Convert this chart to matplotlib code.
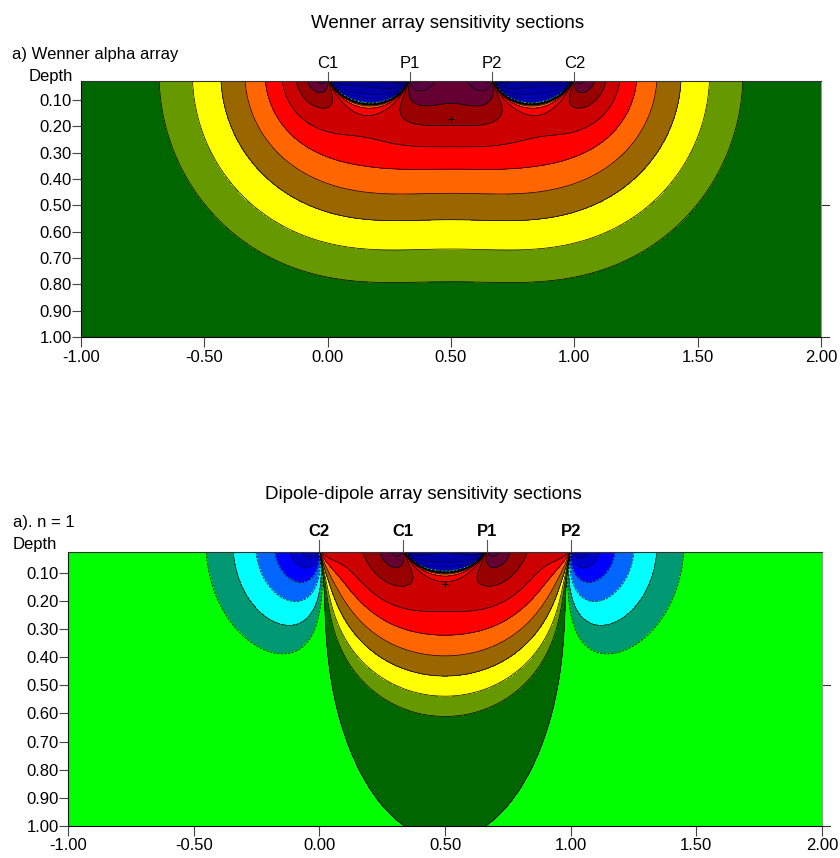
import numpy as np
import matplotlib
matplotlib.use("Agg")
from matplotlib import pyplot as plt

plt.rcParams['font.family'] = ['Liberation Sans', 'DejaVu Sans']

# electrode positions (unit spread) and labels
wenner_names = ["C1", "P1", "P2", "C2"]
wenner_pos = [0.0, 1/3, 2/3, 1.0]
dd_names = ["C2", "C1", "P1", "P2"]
dd_pos = [0.0, 1/3, 2/3, 1.0]
wenner_point = (0.5, 0.173)
dd_point = (0.5, 0.139)

# contour levels and fill colours
levels = [-40.96, -20.48, -10.24, -5.12, -2.56, -1.28, -0.64, -0.32, -0.16, -0.08, -0.04, -0.02, 0.0,
          0.02, 0.04, 0.08, 0.16, 0.32, 0.64, 1.28, 2.56, 5.12, 10.24, 20.48, 40.96]
fill_colors = ["#000060", "#000070", "#000080", "#000099", "#0000AA", "#0000BB", "#0000CC", "#0000FF",
               "#0066FF", "#00FFFF", "#009973", "#00FF00",
               "#006600", "#669900", "#FFFF00", "#996600", "#FF6600", "#FF0000", "#CC0000",
               "#990000", "#660033", "#5A0040", "#500045", "#480048"]

xticks = [-1.0, -0.5, 0.0, 0.5, 1.0, 1.5, 2.0]
yticks = [0.1, 0.2, 0.3, 0.4, 0.5, 0.6, 0.7, 0.8, 0.9, 1.0]


def polepole(xa, xm, X, Z):
    # 2D sensitivity of a pole-pole pair over a homogeneous half space
    u = np.linspace(0, 14, 1000)
    ys = 0.005 * np.sinh(u)
    dys = 0.005 * np.cosh(u)
    out = np.zeros_like(X)
    prev = None
    for k in range(len(u)):
        y2 = ys[k]**2
        ra = (X - xa)**2 + y2 + Z**2
        rm = (X - xm)**2 + y2 + Z**2
        f = ((X - xa)*(X - xm) + y2 + Z**2) / (ra * rm)**1.5 * dys[k]
        if prev is not None:
            out += 0.5*(f + prev)*(u[k] - u[k-1])
        prev = f
    return 2*out/(4*np.pi**2)


def four(c1, c2, p1, p2, X, Z):
    return (polepole(c1, p1, X, Z) - polepole(c1, p2, X, Z)
            - polepole(c2, p1, X, Z) + polepole(c2, p2, X, Z))


def panel(ax, F, X, Z, names, pos, point, ztop, bold, lablift, ticklen):
    ax.contourf(X, Z, F, levels=levels, colors=fill_colors)
    ax.contour(X, Z, F, levels=levels, colors="k", linewidths=0.5)
    ax.plot(*point, "+", color="k", ms=4, mew=0.7)
    ax.set_xlim(-1, 2)
    ax.set_ylim(1.0, ztop)
    ax.set_xticks(xticks)
    ax.set_xticklabels(["%.2f" % v for v in xticks])
    ax.set_yticks(yticks)
    ax.set_yticklabels(["%.2f" % v for v in yticks])
    ax.tick_params(axis="both", direction="out", labelsize=12, width=0.8, color="#444444")
    ax.tick_params(axis="y", length=6.5, pad=0)
    ax.tick_params(axis="x", length=7, pad=2)
    for s in ax.spines.values():
        s.set_linewidth(0.8)
    ax.spines["right"].set_color("#999999")
    ax.spines["top"].set_color("#333333")
    # short right-hand ticks
    tr = ax.get_yaxis_transform()
    for d in [0.5, 1.0]:
        ax.plot([1.0, 1.011], [d, d], color="#333333", lw=0.8, transform=tr, clip_on=False)
    trx = ax.get_xaxis_transform()
    for n, p in zip(names, pos):
        ax.plot([p, p], [1.0, 1.0 + ticklen], color="#555555", lw=0.8, transform=trx, clip_on=False)
        ax.text(p, 1.0 + lablift, n, transform=trx, ha="center", va="center", fontsize=12,
                fontweight="bold" if bold else "normal")


fig = plt.figure(figsize=(8.4, 8.58), dpi=100)

x = np.linspace(-1, 2, 361)
z1 = np.linspace(0.028, 1.0, 170)
X1, Z1 = np.meshgrid(x, z1)
W = four(wenner_pos[0], wenner_pos[3], wenner_pos[1], wenner_pos[2], X1, Z1)

z2 = np.linspace(0.026, 1.0, 170)
X2, Z2 = np.meshgrid(x, z2)
D = four(dd_pos[1], dd_pos[0], dd_pos[2], dd_pos[3], X2, Z2)

ax1 = fig.add_axes([81/840, 1 - 337/858, 740/840, 256/858])
panel(ax1, W, X1, Z1, wenner_names, wenner_pos, wenner_point, 0.028, False, 18/256, 9/256)

ax2 = fig.add_axes([68/840, 1 - 826/858, 754/840, 274/858])
panel(ax2, D, X2, Z2, dd_names, dd_pos, dd_point, 0.026, True, 20/274, 12/274)

fig.text(448/840, 1 - 24/858, "Wenner array sensitivity sections", ha="center", va="center", fontsize=13.5)
fig.text(12/840, 1 - 55/858, "a) Wenner alpha array", ha="left", va="center", fontsize=12)
fig.text(73/840, 1 - 76/858, "Depth", ha="right", va="center", fontsize=12)

fig.text(423/840, 1 - 495/858, "Dipole-dipole array sensitivity sections", ha="center", va="center", fontsize=13.5)
fig.text(13/840, 1 - 522/858, "a). n = 1", ha="left", va="center", fontsize=12)
fig.text(57/840, 1 - 545/858, "Depth", ha="right", va="center", fontsize=12)

fig.savefig("out.png", dpi=100)
